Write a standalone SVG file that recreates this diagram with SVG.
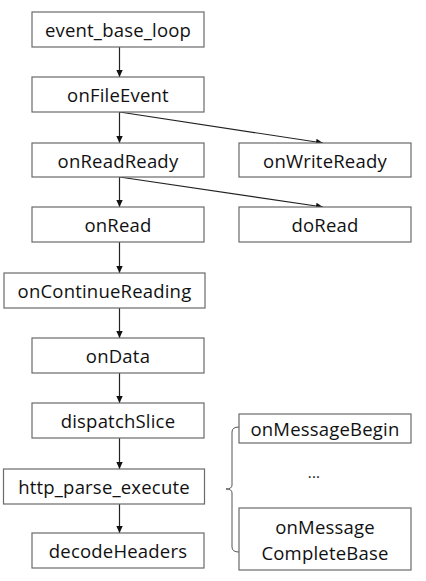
<svg xmlns="http://www.w3.org/2000/svg" width="426" height="581" viewBox="0 0 426 581">
<defs>
<marker id="ah" markerWidth="8" markerHeight="8" refX="7" refY="4" orient="auto" markerUnits="userSpaceOnUse">
<path d="M0,0.8 L7,4 L0,7.2 Z" fill="#111"/>
</marker>
<style>
.box{fill:#fff;stroke:#6a6a6a;stroke-width:1.2}
.t{font-family:"Open Sans","Liberation Sans",sans-serif;font-size:18.5px;letter-spacing:0.2px;fill:#111;text-anchor:middle;dominant-baseline:central}
.c{fill:none;stroke:#222;stroke-width:1.2;marker-end:url(#ah)}
.br{fill:none;stroke:#555;stroke-width:1}
</style>
</defs>
<rect width="426" height="581" fill="#fff"/>
<g id="connectors">
<line class="c" x1="119.5" y1="47" x2="119.5" y2="77"/>
<line class="c" x1="119.5" y1="112" x2="119.5" y2="143"/>
<line class="c" x1="119.5" y1="112" x2="323" y2="143"/>
<line class="c" x1="119.5" y1="177" x2="119.5" y2="207"/>
<line class="c" x1="119.5" y1="177" x2="323" y2="207"/>
<line class="c" x1="119.5" y1="242" x2="119.5" y2="273"/>
<line class="c" x1="119.5" y1="308" x2="119.5" y2="338"/>
<line class="c" x1="119.5" y1="373" x2="119.5" y2="403"/>
<line class="c" x1="119.5" y1="438" x2="119.5" y2="469"/>
<line class="c" x1="119.5" y1="504" x2="119.5" y2="533"/>
<path class="br" d="M239,427 Q232,427 232,432 L232,485 Q232,489 226,489 Q232,489 232,493 L232,547 Q232,552 239,552"/>
</g>
<g id="event_base_loop"><rect class="box" x="32" y="12" width="172" height="35"/><text class="t" x="118" y="29.5">event_base_loop</text></g>
<g id="onFileEvent"><rect class="box" x="32" y="77" width="172" height="35"/><text class="t" x="118" y="94.5">onFileEvent</text></g>
<g id="onReadReady"><rect class="box" x="32" y="143" width="172" height="34"/><text class="t" x="118" y="160">onReadReady</text></g>
<g id="onWriteReady"><rect class="box" x="239" y="143" width="172" height="34"/><text class="t" x="325" y="160">onWriteReady</text></g>
<g id="onRead"><rect class="box" x="32" y="207" width="172" height="35"/><text class="t" x="118" y="224.5">onRead</text></g>
<g id="doRead"><rect class="box" x="239" y="207" width="172" height="35"/><text class="t" x="325" y="224.5">doRead</text></g>
<g id="onContinueReading"><rect class="box" x="4" y="273" width="201" height="35"/><text class="t" x="104.5" y="290.5">onContinueReading</text></g>
<g id="onData"><rect class="box" x="32" y="338" width="172" height="35"/><text class="t" x="118" y="355.5">onData</text></g>
<g id="dispatchSlice"><rect class="box" x="32" y="403" width="172" height="35"/><text class="t" x="118" y="420.5">dispatchSlice</text></g>
<g id="http_parse_execute"><rect class="box" x="3.5" y="469" width="201" height="35"/><text class="t" x="104" y="486.5">http_parse_execute</text></g>
<g id="decodeHeaders"><rect class="box" x="32" y="533" width="172" height="35"/><text class="t" x="118" y="550.5">decodeHeaders</text></g>
<g id="onMessageBegin"><rect class="box" x="239" y="414" width="172" height="29"/><text class="t" x="325" y="428.5">onMessageBegin</text></g>
<g id="ellipsis"><text class="t" x="314" y="472" style="font-size:15px">...</text></g>
<g id="onMessageCompleteBase"><rect class="box" x="239" y="508" width="172" height="62"/><text class="t" x="325" y="526">onMessage</text><text class="t" x="325" y="552">CompleteBase</text></g>
</svg>
